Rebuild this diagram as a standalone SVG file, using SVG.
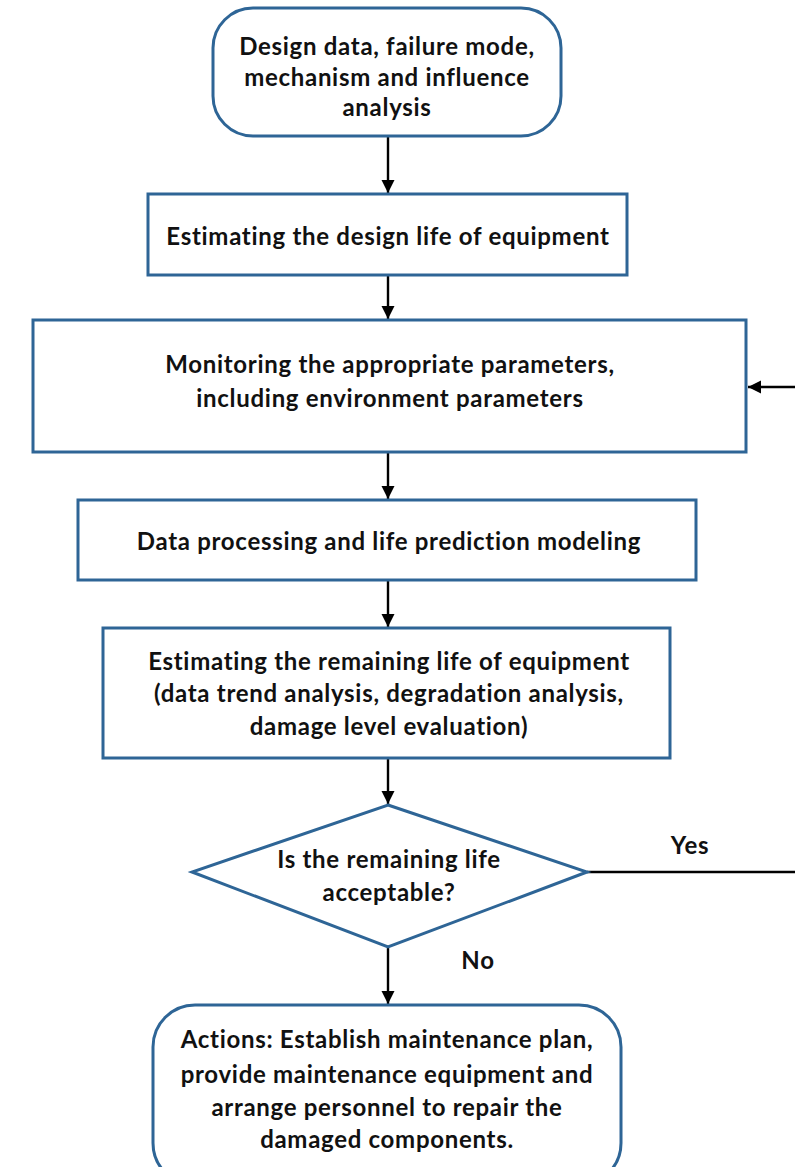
<svg xmlns="http://www.w3.org/2000/svg" width="795" height="1167" viewBox="0 0 795 1167">
<style>
.n{fill:#fff;stroke:#2e6596;stroke-width:3}
.t{font-family:Lato,"Liberation Sans",sans-serif;font-weight:bold;font-size:24px;letter-spacing:0.7px;fill:#111;text-anchor:middle}
.c{stroke:#000;stroke-width:2.4;fill:none}
</style>
<defs>
<marker id="ah" viewBox="0 0 10 10" refX="10" refY="5" markerWidth="5.5" markerHeight="5.5" orient="auto" markerUnits="strokeWidth">
<path d="M0,0 L10,5 L0,10 z" fill="#000"/>
</marker>
</defs>
<rect width="795" height="1167" fill="#fff"/>
<g id="connectors">
<line class="c" x1="388" y1="137" x2="388" y2="193" marker-end="url(#ah)"/>
<line class="c" x1="388" y1="276" x2="388" y2="319" marker-end="url(#ah)"/>
<line class="c" x1="795" y1="387" x2="748" y2="387" marker-end="url(#ah)"/>
<line class="c" x1="388" y1="453" x2="388" y2="499" marker-end="url(#ah)"/>
<line class="c" x1="388" y1="581" x2="388" y2="627" marker-end="url(#ah)"/>
<line class="c" x1="388" y1="759" x2="388" y2="804" marker-end="url(#ah)"/>
<line class="c" x1="587" y1="872" x2="795" y2="872"/>
<line class="c" x1="388" y1="948" x2="388" y2="1004" marker-end="url(#ah)"/>
<text class="t" x="690" y="854">Yes</text>
<text class="t" x="478" y="969">No</text>
</g>
<g id="n1">
<rect class="n" x="213" y="8" width="348" height="128" rx="40"/>
<text class="t" x="387" y="55">Design data, failure mode,</text>
<text class="t" x="387" y="86">mechanism and influence</text>
<text class="t" x="387" y="116">analysis</text>
</g>
<g id="n2">
<rect class="n" x="148" y="194" width="479" height="81"/>
<text class="t" x="388" y="245">Estimating the design life of equipment</text>
</g>
<g id="n3">
<rect class="n" x="33" y="320" width="713" height="132"/>
<text class="t" x="390" y="373">Monitoring the appropriate parameters,</text>
<text class="t" x="390" y="407">including environment parameters</text>
</g>
<g id="n4">
<rect class="n" x="78" y="500" width="618" height="80"/>
<text class="t" x="389" y="550">Data processing and life prediction modeling</text>
</g>
<g id="n5">
<rect class="n" x="103" y="628" width="567" height="130"/>
<text class="t" x="389" y="670">Estimating the remaining life of equipment</text>
<text class="t" x="389" y="702">(data trend analysis, degradation analysis,</text>
<text class="t" x="389" y="735">damage level evaluation)</text>
</g>
<g id="n6">
<polygon class="n" points="388,805 587,872 388,947 192,872"/>
<text class="t" x="389" y="868">Is the remaining life</text>
<text class="t" x="389" y="901">acceptable?</text>
</g>
<g id="n7">
<rect class="n" x="153" y="1005" width="468" height="180" rx="42"/>
<text class="t" x="387" y="1048">Actions: Establish maintenance plan,</text>
<text class="t" x="387" y="1083">provide maintenance equipment and</text>
<text class="t" x="387" y="1116">arrange personnel to repair the</text>
<text class="t" x="387" y="1148">damaged components.</text>
</g>
</svg>
